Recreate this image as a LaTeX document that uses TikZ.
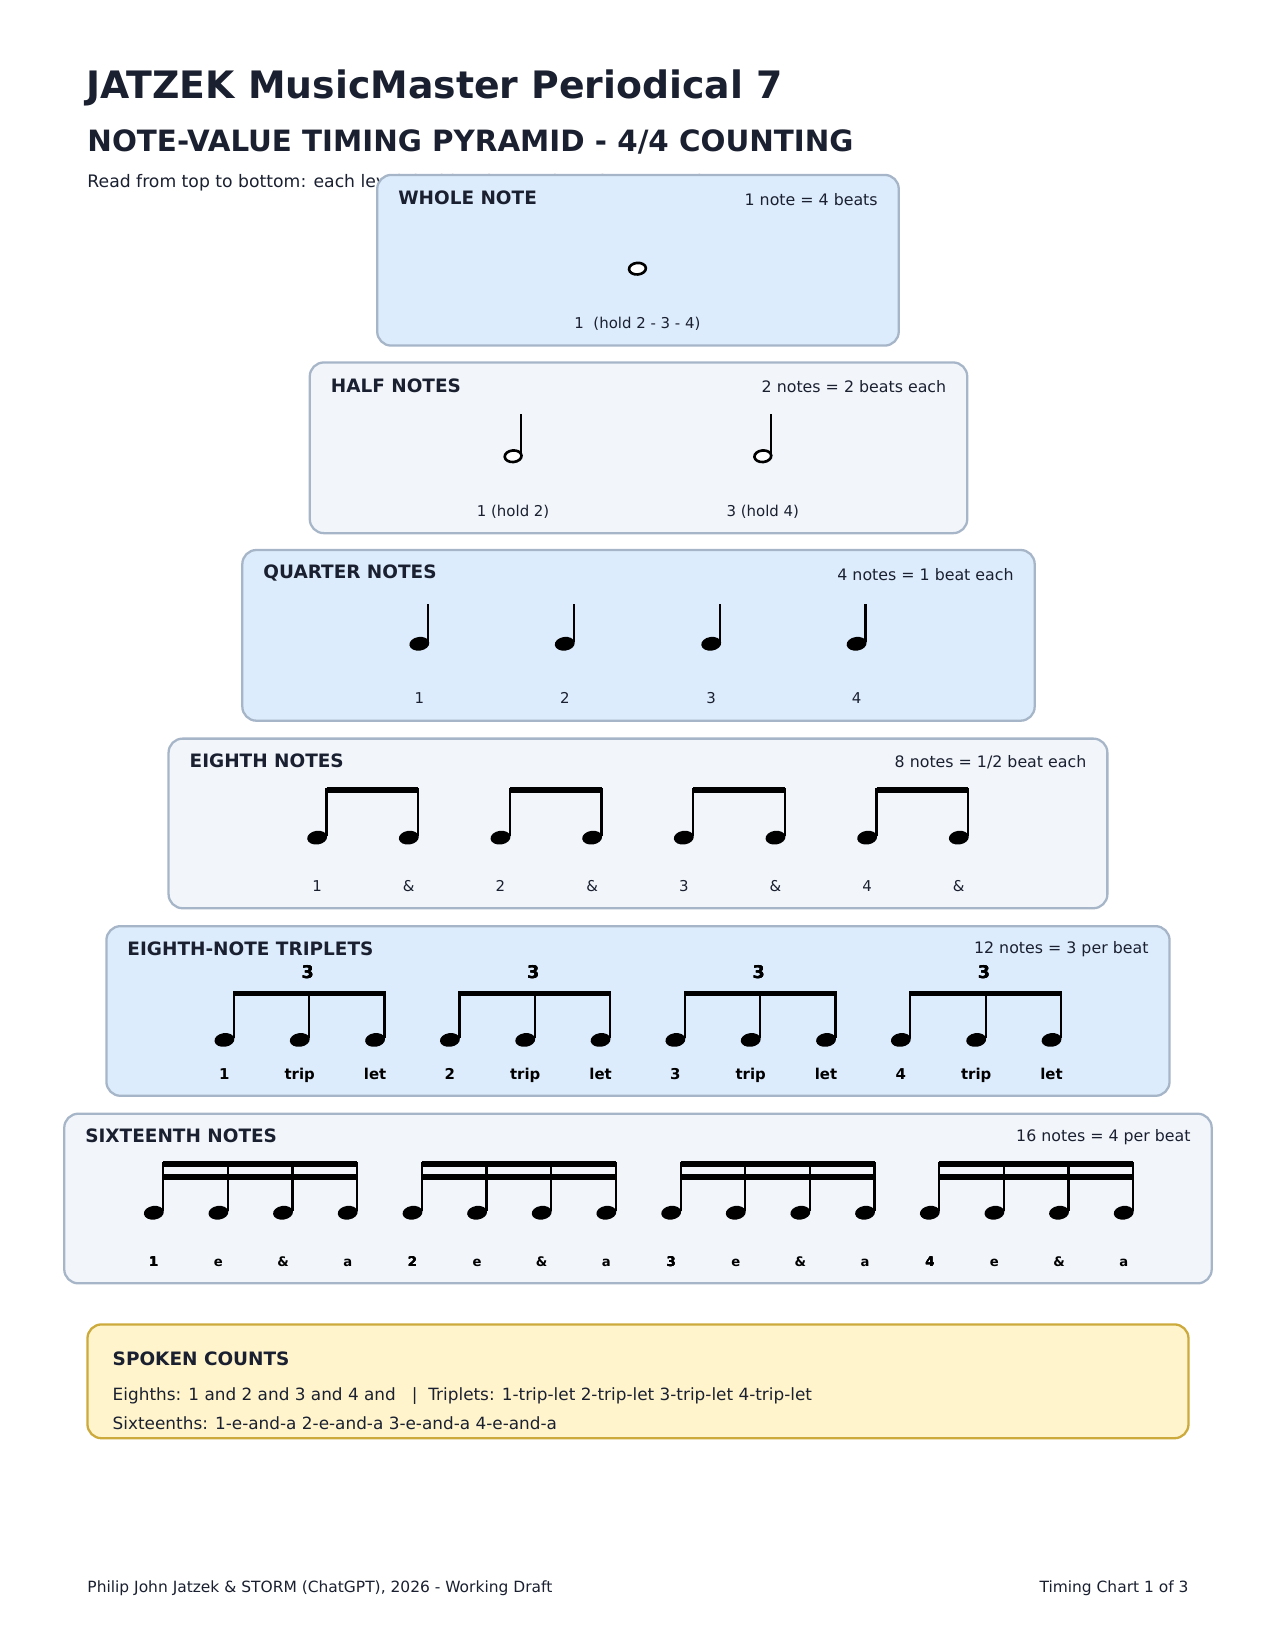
\documentclass[tikz,border=0pt]{standalone}
\usepackage{fontspec}
\setmainfont{DejaVu Sans}
\usetikzlibrary{positioning}
\definecolor{InkDark}{RGB}{26,32,48}
\definecolor{PanelBlue}{RGB}{221,236,252}
\definecolor{PanelGrey}{RGB}{242,246,251}
\definecolor{PanelEdge}{RGB}{166,182,200}
\definecolor{NoteFill}{RGB}{255,244,204}
\definecolor{NoteEdge}{RGB}{205,170,60}
\tikzset{
    panel/.style={draw=PanelEdge, line width=1.3pt, rounded corners=8pt},
    ptitle/.style={anchor=west, font=\fontsize{10.5}{12}\selectfont\bfseries, text=InkDark},
    pinfo/.style={anchor=east, font=\fontsize{9}{11}\selectfont, text=InkDark},
    cnt/.style={anchor=base, font=\fontsize{8.5}{10}\selectfont, text=InkDark},
    cntb/.style={anchor=base, font=\fontsize{8.5}{10}\selectfont\bfseries, text=black},
    cnts/.style={anchor=base, font=\fontsize{7.5}{9}\selectfont\bfseries, text=black},
    stem/.style={line width=1.3pt},
    beam/.style={line width=3.2pt}
}
\newcommand{\headF}[2]{\fill[rotate around={8:(#1,#2)}] (#1,#2) ellipse [x radius=9.5, y radius=6.5];}
\newcommand{\headO}[2]{\draw[line width=1.5pt, fill=white, rotate around={5:(#1,#2)}] (#1,#2) ellipse [x radius=8, y radius=5.5];}
\begin{document}
\begin{tikzpicture}[x=0.02107cm, y=-0.02107cm, every node/.style={inner sep=1pt}]
  \useasboundingbox (0,0) rectangle (1210,1566);
  \fill[white] (0,0) rectangle (1210,1566);

  % Header
  \node[anchor=west, font=\fontsize{21.5}{24}\selectfont\bfseries, text=InkDark] (title) at (80,83) {JATZEK MusicMaster Periodical 7};
  \node[anchor=west, font=\fontsize{16.7}{19}\selectfont\bfseries, text=InkDark] (subtitle) at (81,135) {NOTE-VALUE TIMING PYRAMID - 4/4 COUNTING};
  \node[anchor=west, font=\fontsize{9.8}{12}\selectfont, text=InkDark] (intro) at (81,173) {Read from top to bottom: each level doubles the number of note attacks.};

  % ---- Whole note ----
  \draw[panel, fill=PanelBlue] (358,166) rectangle (853,328);
  \node[ptitle] (wT) at (376,188) {WHOLE NOTE};
  \node[pinfo] (wI) at (835,189) {1 note = 4 beats};
  \headO{605}{255}
  \node[cnt] (wC) at (605,312) {1\ \ (hold 2 - 3 - 4)};

  % ---- Half notes ----
  \draw[panel, fill=PanelGrey] (294,344) rectangle (918,506);
  \node[ptitle] (hT) at (312,366) {HALF NOTES};
  \node[pinfo] (hI) at (900,367) {2 notes = 2 beats each};
  \foreach \x/\lab in {487/1 (hold 2), 724/3 (hold 4)} {
    \draw[stem] (\x+7.5,431) -- (\x+7.5,393);
    \headO{\x}{433}
    \node[cnt] at (\x,490) {\lab};
  }

  % ---- Quarter notes ----
  \draw[panel, fill=PanelBlue] (230,522) rectangle (982,684);
  \node[ptitle] (qT) at (248,544) {QUARTER NOTES};
  \node[pinfo] (qI) at (964,545) {4 notes = 1 beat each};
  \foreach \x/\lab in {398/1, 536/2, 675/3, 813/4} {
    \draw[stem] (\x+8.5,609) -- (\x+8.5,573);
    \headF{\x}{611}
    \node[cnt] at (\x,668) {\lab};
  }

  % ---- Eighth notes ----
  \draw[panel, fill=PanelGrey] (160,701) rectangle (1051,862);
  \node[ptitle] (eT) at (178,722) {EIGHTH NOTES};
  \node[pinfo] (eI) at (1033,723) {8 notes = 1/2 beat each};
  \foreach \x/\n in {301/1, 475/2, 649/3, 823/4} {
    \draw[stem] (\x+9,793) -- (\x+9,748);
    \draw[stem] (\x+96,793) -- (\x+96,748);
    \draw[beam] (\x+9,750) -- (\x+96,750);
    \headF{\x}{795}
    \headF{\x+87}{795}
    \node[cnt] at (\x,846) {\n};
    \node[cnt] at (\x+87,846) {\&};
  }

  % ---- Eighth-note triplets ----
  \draw[panel, fill=PanelBlue] (101,879) rectangle (1110,1040);
  \node[ptitle] (tT) at (119,900) {EIGHTH-NOTE TRIPLETS};
  \node[pinfo] (tI) at (1092,901) {12 notes = 3 per beat};
  \foreach \x/\n in {213/1, 427/2, 641/3, 855/4} {
    \foreach \d in {0, 71.5, 143}
      \draw[stem] (\x+\d+9,985) -- (\x+\d+9,941);
    \draw[beam] (\x+9,943) -- (\x+152,943);
    \foreach \d in {0, 71.5, 143}
      \headF{\x+\d}{987}
    \node[cntb, font=\fontsize{10}{12}\selectfont\bfseries] at (\x+79,929) {3};
    \node[cntb] at (\x,1025) {\n};
    \node[cntb] at (\x+71.5,1025) {trip};
    \node[cntb] at (\x+143,1025) {let};
  }

  % ---- Sixteenth notes ----
  \draw[panel, fill=PanelGrey] (61,1057) rectangle (1150,1218);
  \node[ptitle] (sT) at (79,1078) {SIXTEENTH NOTES};
  \node[pinfo] (sI) at (1132,1079) {16 notes = 4 per beat};
  \foreach \x/\n in {146/1, 391.5/2, 637/3, 882.5/4} {
    \foreach \d in {0, 61.3, 122.6, 184}
      \draw[stem] (\x+\d+9,1149) -- (\x+\d+9,1103);
    \draw[beam] (\x+9,1105) -- (\x+193,1105);
    \draw[beam] (\x+9,1117) -- (\x+193,1117);
    \foreach \d in {0, 61.3, 122.6, 184}
      \headF{\x+\d}{1151}
    \node[cnts] at (\x,1202) {\n};
    \node[cnts] at (\x+61.3,1202) {e};
    \node[cnts] at (\x+122.6,1202) {\&};
    \node[cnts] at (\x+184,1202) {a};
  }

  % ---- Spoken counts ----
  \draw[draw=NoteEdge, line width=1.3pt, rounded corners=8pt, fill=NoteFill] (83,1257) rectangle (1128,1365);
  \node[ptitle] (spT) at (105,1290) {SPOKEN COUNTS};
  \node[anchor=west, font=\fontsize{9.6}{12}\selectfont, text=InkDark] (sp1) at (105,1325) {Eighths: 1 and 2 and 3 and 4 and \ \ |\ \ Triplets: 1-trip-let 2-trip-let 3-trip-let 4-trip-let};
  \node[anchor=west, font=\fontsize{9.6}{12}\selectfont, text=InkDark] (sp2) at (105,1351) {Sixteenths: 1-e-and-a 2-e-and-a 3-e-and-a 4-e-and-a};

  % Footer
  \node[anchor=west, font=\fontsize{8.8}{11}\selectfont, text=InkDark] (footL) at (81,1507) {Philip John Jatzek \& STORM (ChatGPT), 2026 - Working Draft};
  \node[anchor=east, font=\fontsize{8.8}{11}\selectfont, text=InkDark] (footR) at (1130,1507) {Timing Chart 1 of 3};
\end{tikzpicture}
\end{document}
